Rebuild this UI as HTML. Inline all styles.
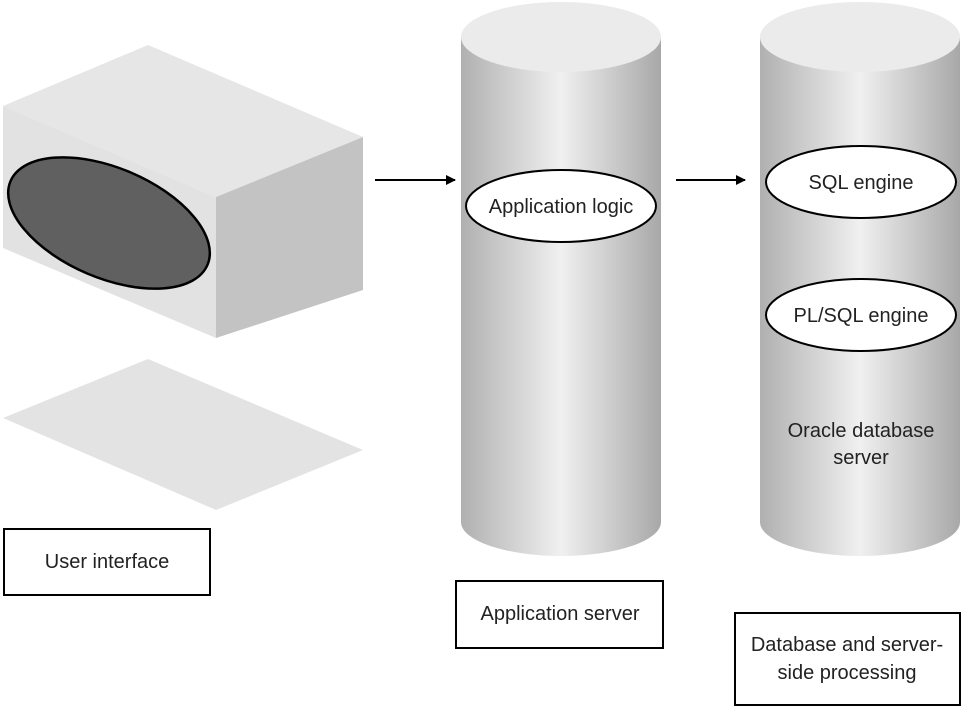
<!DOCTYPE html>
<html><head><meta charset="utf-8"><style>
html,body{margin:0;padding:0;background:#fff;}
svg{display:block;}
text{font-family:"Liberation Sans",sans-serif;font-size:20px;fill:#222;}
</style></head><body>
<svg width="962" height="710" viewBox="0 0 962 710" xmlns="http://www.w3.org/2000/svg">
<defs>
<linearGradient id="cyl" x1="0" x2="1" y1="0" y2="0">
<stop offset="0" stop-color="#b0b0b0"/>
<stop offset="0.5" stop-color="#f0f0f0"/>
<stop offset="1" stop-color="#a8a8a8"/>
</linearGradient>
<marker id="ah" markerWidth="10" markerHeight="10" refX="9" refY="5" orient="auto" markerUnits="userSpaceOnUse">
<path d="M0,0 L10,5 L0,10 z" fill="#000"/>
</marker>
</defs>
<!-- box -->
<polygon points="148,45 363,137 216,197 3,106" fill="#e6e6e6"/>
<polygon points="3,106 216,197 216,338 3,248" fill="#e2e2e2"/>
<polygon points="216,197 363,137 363,290 216,338" fill="#c3c3c3"/>
<ellipse cx="109" cy="223" rx="107" ry="55" transform="rotate(23 109 223)" fill="#606060" stroke="#000" stroke-width="2.5"/>
<polygon points="148,359 363,450 216,510 3,418" fill="#e3e3e3"/>
<!-- cylinders -->
<path d="M461,38 L461,522 A100,34 0 0 0 661,522 L661,38 Z" fill="url(#cyl)"/>
<ellipse cx="561" cy="37" rx="100" ry="35" fill="#ebebeb"/>
<path d="M760,38 L760,522 A100,34 0 0 0 960,522 L960,38 Z" fill="url(#cyl)"/>
<ellipse cx="860" cy="37" rx="100" ry="35" fill="#ebebeb"/>
<!-- arrows -->
<line x1="375" y1="180" x2="455" y2="180" stroke="#000" stroke-width="2" marker-end="url(#ah)"/>
<line x1="676" y1="180" x2="745" y2="180" stroke="#000" stroke-width="2" marker-end="url(#ah)"/>
<!-- ellipses -->
<ellipse cx="561" cy="206" rx="95" ry="36" fill="#fff" stroke="#000" stroke-width="2"/>
<text x="561" y="213" text-anchor="middle">Application logic</text>
<ellipse cx="861" cy="182" rx="95" ry="36" fill="#fff" stroke="#000" stroke-width="2"/>
<text x="861" y="189" text-anchor="middle">SQL engine</text>
<ellipse cx="861" cy="315" rx="95" ry="36" fill="#fff" stroke="#000" stroke-width="2"/>
<text x="861" y="322" text-anchor="middle">PL/SQL engine</text>
<text x="861" y="437" text-anchor="middle">Oracle database</text>
<text x="861" y="464" text-anchor="middle">server</text>
<!-- label boxes -->
<rect x="4" y="529" width="206" height="66" fill="#fff" stroke="#000" stroke-width="2"/>
<text x="107" y="568" text-anchor="middle">User interface</text>
<rect x="456" y="581" width="207" height="67" fill="#fff" stroke="#000" stroke-width="2"/>
<text x="560" y="620" text-anchor="middle">Application server</text>
<rect x="735" y="613" width="225" height="92" fill="#fff" stroke="#000" stroke-width="2"/>
<text x="847" y="651" text-anchor="middle">Database and server-</text>
<text x="847" y="679" text-anchor="middle">side processing</text>
</svg>
</body></html>
